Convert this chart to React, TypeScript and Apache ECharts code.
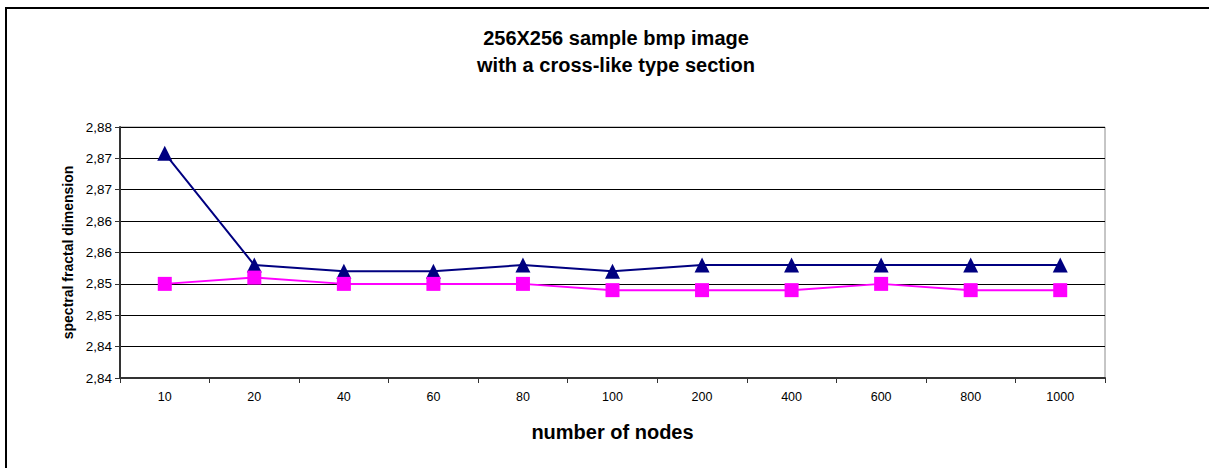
import React, { useEffect, useRef } from "react";
import * as echarts from "echarts";

const categories = ["10", "20", "40", "60", "80", "100", "200", "400", "600", "800", "1000"];
const seriesBlue = [2.8758, 2.858, 2.857, 2.857, 2.858, 2.857, 2.858, 2.858, 2.858, 2.858, 2.858];
const seriesPink = [2.855, 2.856, 2.855, 2.855, 2.855, 2.854, 2.854, 2.854, 2.855, 2.854, 2.854];
const yTickLabels = ["2,84", "2,84", "2,85", "2,85", "2,86", "2,86", "2,87", "2,87", "2,88"];
const titleLines = ["256X256 sample bmp image", "with a cross-like type section"];
const xName = "number of nodes";
const yName = "spectral fractal dimension";

const FONT = "'Liberation Sans', Arial, sans-serif";

export default function App() {
  const ref = useRef<HTMLDivElement>(null);
  useEffect(() => {
    if (!ref.current) return;
    const chart = echarts.init(ref.current, null, { renderer: "svg" });
    const yMin = 2.84;
    const yStep = 0.005;
    chart.setOption({
      animation: false,
      backgroundColor: "#ffffff",
      title: {
        text: titleLines.join("\n"),
        left: 611,
        textAlign: "center",
        top: 19,
        textStyle: { fontFamily: FONT, fontSize: 20, fontWeight: "bold", color: "#000", lineHeight: 27 },
      },
      grid: {
        left: 120,
        right: 104,
        top: 127,
        height: 251,
        show: true,
        borderColor: "#8c8c8c",
        borderWidth: 1,
        backgroundColor: "transparent",
      },
      graphic: [
        {
          type: "rect",
          shape: { x: 6, y: 8, width: 1220, height: 480 },
          style: { fill: "none", stroke: "#000", lineWidth: 2 },
          silent: true,
        },
      ],
      xAxis: {
        type: "category",
        data: categories,
        boundaryGap: true,
        name: xName,
        nameLocation: "middle",
        nameGap: 44,
        nameTextStyle: { fontFamily: FONT, fontSize: 20, fontWeight: "bold", color: "#000" },
        axisLine: { lineStyle: { color: "#333", width: 2 } },
        axisTick: { show: true, length: 5, lineStyle: { color: "#333" } },
        axisLabel: { fontFamily: FONT, fontSize: 12.5, color: "#000", margin: 12 },
        splitLine: { show: false },
      },
      yAxis: {
        type: "value",
        min: yMin,
        max: 2.88,
        interval: yStep,
        name: yName,
        nameLocation: "middle",
        nameGap: 41,
        nameRotate: 90,
        nameTextStyle: { fontFamily: FONT, fontSize: 14, fontWeight: "bold", color: "#000" },
        axisLine: { show: true, lineStyle: { color: "#333", width: 2 } },
        axisTick: { show: true, length: 5, lineStyle: { color: "#333" } },
        axisLabel: {
          fontFamily: FONT,
          fontSize: 13.5,
          color: "#000",
          margin: 8,
          formatter: (v: number) => yTickLabels[Math.round((v - yMin) / yStep)] ?? "",
        },
        splitLine: { show: true, lineStyle: { color: "#000", width: 1 } },
      },
      series: [
        {
          type: "line",
          data: seriesBlue,
          symbol: "triangle",
          symbolSize: 15,
          lineStyle: { color: "#000080", width: 2 },
          itemStyle: { color: "#000080" },
        },
        {
          type: "line",
          data: seriesPink,
          symbol: "rect",
          symbolSize: 14,
          lineStyle: { color: "#ff00ff", width: 2 },
          itemStyle: { color: "#ff00ff" },
        },
      ],
    });
    return () => chart.dispose();
  }, []);
  return (
    <div
      ref={ref}
      style={{ position: "fixed", left: 0, top: 0, width: 1209, height: 468 }}
    />
  );
}
